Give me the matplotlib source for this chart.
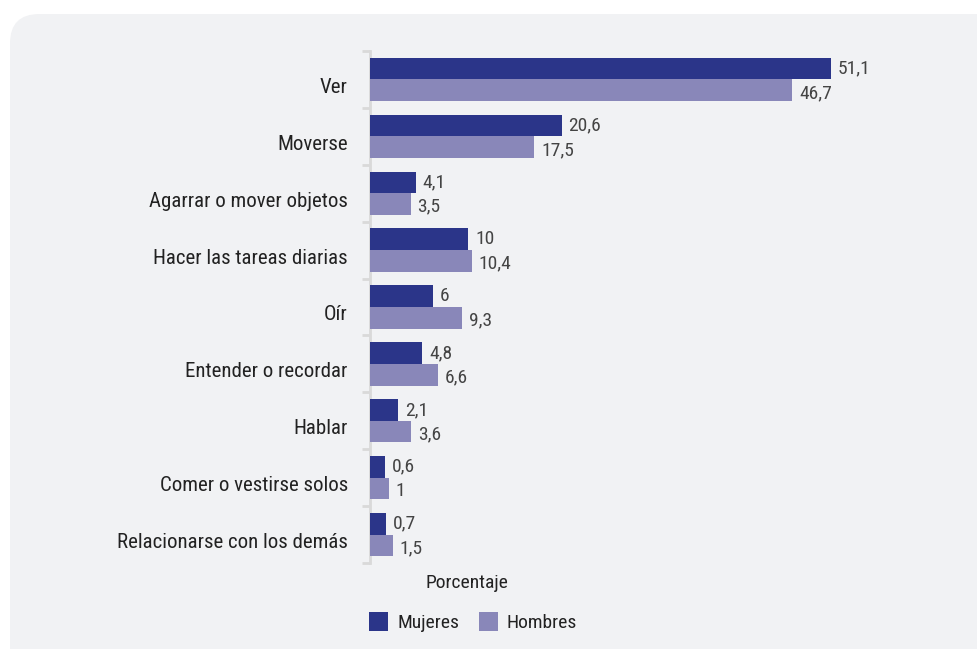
import matplotlib
matplotlib.use("Agg")
import matplotlib.pyplot as plt
import matplotlib.transforms as mtransforms
from matplotlib.patches import FancyBboxPatch, Patch
import numpy as np

plt.rcParams['font.family'] = ['Roboto Condensed', 'Liberation Sans Narrow', 'Open Sans Condensed',
                               'DejaVu Sans']
plt.rcParams['font.stretch'] = 'condensed'

categorias = ['Ver', 'Moverse', 'Agarrar o mover objetos', 'Hacer las tareas diarias',
              'Oír', 'Entender o recordar', 'Hablar', 'Comer o vestirse solos',
              'Relacionarse con los demás']
mujeres = [51.1, 20.6, 4.1, 10, 6, 4.8, 2.1, 0.6, 0.7]
hombres = [46.7, 17.5, 3.5, 10.4, 9.3, 6.6, 3.6, 1, 1.5]

c_muj = '#2b3589'
c_hom = '#8987b9'

W, H = 978, 649
fig = plt.figure(figsize=(W / 100, H / 100), dpi=100, facecolor='white')

# fondo gris redondeado
bg = FancyBboxPatch((10 / W, (H - 680) / H), 1.2, 666 / H,
                    boxstyle='round,pad=0,rounding_size=0.03',
                    transform=fig.transFigure, facecolor='#f1f2f4',
                    edgecolor='none', zorder=-5, mutation_aspect=W / H)
fig.patches.append(bg)

ax = fig.add_axes([370 / W, (H - 563) / H, 559 / W, 512 / H])
ax.set_facecolor('none')
ax.set_zorder(2)

# el cero del original queda un poco a la derecha del eje
esc = 8.83
x0 = -9.7 / esc
y = np.arange(len(categorias))
h = 0.38
m = np.array(mujeres)
hb = np.array(hombres)
ax.barh(y - h / 2, m - x0, left=x0, height=h, color=c_muj, zorder=3)
ax.barh(y + h / 2, hb - x0, left=x0, height=h, color=c_hom, zorder=3)

def fmt(v):
    return ('%g' % v).replace('.', ',')

for i in range(len(categorias)):
    ax.annotate(fmt(mujeres[i]), (mujeres[i], y[i] - h / 2), xytext=(5, 0),
                textcoords='offset points', va='center', ha='left',
                fontsize=14, color='#444444')
    ax.annotate(fmt(hombres[i]), (hombres[i], y[i] + h / 2), xytext=(5, -2),
                textcoords='offset points', va='center', ha='left',
                fontsize=14, color='#444444')

ax.set_xlim(x0, x0 + 559 / esc)
ax.set_ylim(len(categorias) - 0.5, -0.5)
ax.set_yticks(y)
ax.set_yticklabels(categorias, fontsize=15, color='#222222')
ax.set_yticks(np.arange(-0.5, len(categorias), 1), minor=True)
ax.tick_params(axis='y', which='major', length=0, pad=16)
ax.tick_params(axis='y', which='minor', length=6, width=2, color='#d9d9d9')
ax.set_xticks([])
# etiquetas algo más abajo que el centro del grupo
off = mtransforms.ScaledTranslation(0, -6 / 100, fig.dpi_scale_trans)
for lab in ax.get_yticklabels():
    lab.set_transform(lab.get_transform() + off)
for s in ['top', 'right', 'bottom']:
    ax.spines[s].set_visible(False)
ax.spines['left'].set_color('#d9d9d9')
ax.spines['left'].set_linewidth(2)

fig.text(467 / W, 1 - 583 / H, 'Porcentaje', ha='center', va='center',
         fontsize=14, color='#222222')

handles = [Patch(facecolor=c_muj, label='Mujeres'), Patch(facecolor=c_hom, label='Hombres')]
fig.legend(handles=handles, loc='center', bbox_to_anchor=(473 / W, 1 - 622 / H),
           ncol=2, frameon=False, fontsize=14, handlelength=1.0, handleheight=1.1,
           columnspacing=1.0, handletextpad=0.45, labelcolor='#222222')

fig.savefig('out.png', dpi=100, facecolor='white')
